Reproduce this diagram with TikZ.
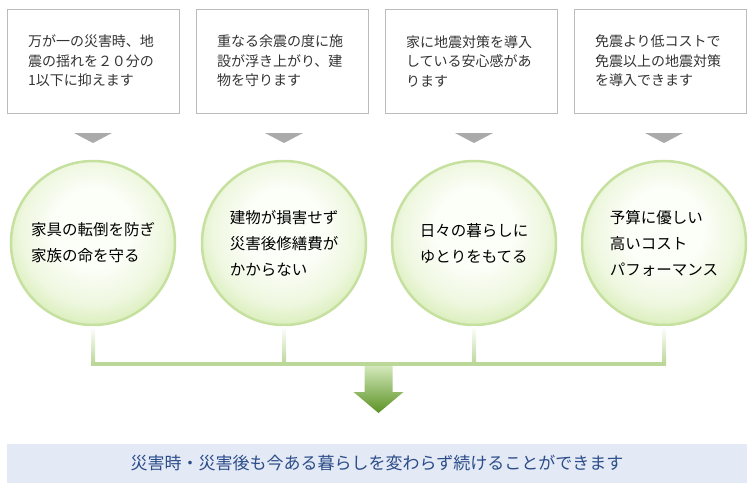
\documentclass[tikz,border=0pt]{standalone}
\usepackage{fontspec}
\usetikzlibrary{calc}
\newfontfamily\jpfont{Noto Sans CJK JP}
\definecolor{boxline}{HTML}{BBBBBB}
\definecolor{boxtext}{HTML}{333333}
\definecolor{tricol}{HTML}{AAAAAA}
\definecolor{ballin}{HTML}{FCFEF8}
\definecolor{ballmid}{HTML}{EEF7DF}
\definecolor{ballout}{HTML}{D4ECB0}
\definecolor{ballrim}{HTML}{C6E19F}
\definecolor{barc}{HTML}{BBD899}
\definecolor{arrowtop}{HTML}{D3E8BA}
\definecolor{arrowbot}{HTML}{5B9224}
\definecolor{resultfill}{HTML}{E3E9F5}
\definecolor{resulttext}{HTML}{2B4C88}
\pgfdeclareradialshading{ballshade}{\pgfpoint{0bp}{6bp}}{color(0bp)=(ballin); color(12bp)=(ballin); color(22bp)=(ballmid); color(30bp)=(ballout); color(50bp)=(ballout)}
\begin{document}
\begin{tikzpicture}[x=1pt,y=-1pt,
    infobox/.style={draw=boxline, rectangle, minimum width=172pt, minimum height=104pt,
        text width=130pt, inner xsep=21pt, align=left, text=boxtext,
        font=\jpfont\fontsize{14}{19.5}\selectfont},
    ball/.style={circle, draw=ballrim, line width=2.5pt, minimum size=164pt,
        shading=ballshade, align=left,
        font=\jpfont\fontsize{15.5}{26}\selectfont},
    resultbox/.style={rectangle, fill=resultfill, minimum width=740pt, minimum height=39pt,
        text=resulttext, font=\jpfont\fontsize{17}{20}\selectfont}]
    \useasboundingbox (0,0) rectangle (756,491);
    \foreach \x/\n/\txt in {93/1/{万が一の災害時、地\\震の揺れを２０分の\\1以下に抑えます},
        282/2/{重なる余震の度に施\\設が浮き上がり、建\\物を守ります},
        471/3/{家に地震対策を導入\\している安心感があ\\ります},
        660/4/{免震より低コストで\\免震以上の地震対策\\を導入できます}} {
        \node[infobox] (box\n) at (\x,61) {\txt};
    }
    \foreach \x in {93,284,474,664} {
        \fill[tricol] (\x-19,133) -- (\x+19,133) -- (\x,143) -- cycle;
    }
    \foreach \x/\n/\txt in {93/1/{家具の転倒を防ぎ\\家族の命を守る},
        284/2/{建物が損害せず\\災害後修繕費が\\かからない},
        474/3/{日々の暮らしに\\ゆとりをもてる},
        664/4/{予算に優しい\\高いコスト\\パフォーマンス}} {
        \node[ball, shade] (ball\n) at (\x,243) {\txt};
    }
    \foreach \n in {1,...,4} {
        \coordinate (join\n) at (ball\n.south |- 0,364);
        \shade[top color=white, bottom color=barc] ([xshift=-2pt]ball\n.south) rectangle ([xshift=2pt]join\n);
    }
    \draw[barc, line width=4pt] ([xshift=-2pt]join1) -- ([xshift=2pt]join4);
    \coordinate (mid) at ($(join1)!0.5!(join4)$);
    \shade[top color=arrowtop, bottom color=arrowbot]
        ($(mid)+(-14,2)$) -- ++(0,26) -- ++(-11,0) -- ($(mid)+(0,49)$)
        -- ($(mid)+(25,28)$) -- ++(-11,0) -- ($(mid)+(14,2)$) -- cycle;
    \node[resultbox] (result) at (377,463.5) {災害時・災害後も今ある暮らしを変わらず続けることができます};
\end{tikzpicture}
\end{document}
